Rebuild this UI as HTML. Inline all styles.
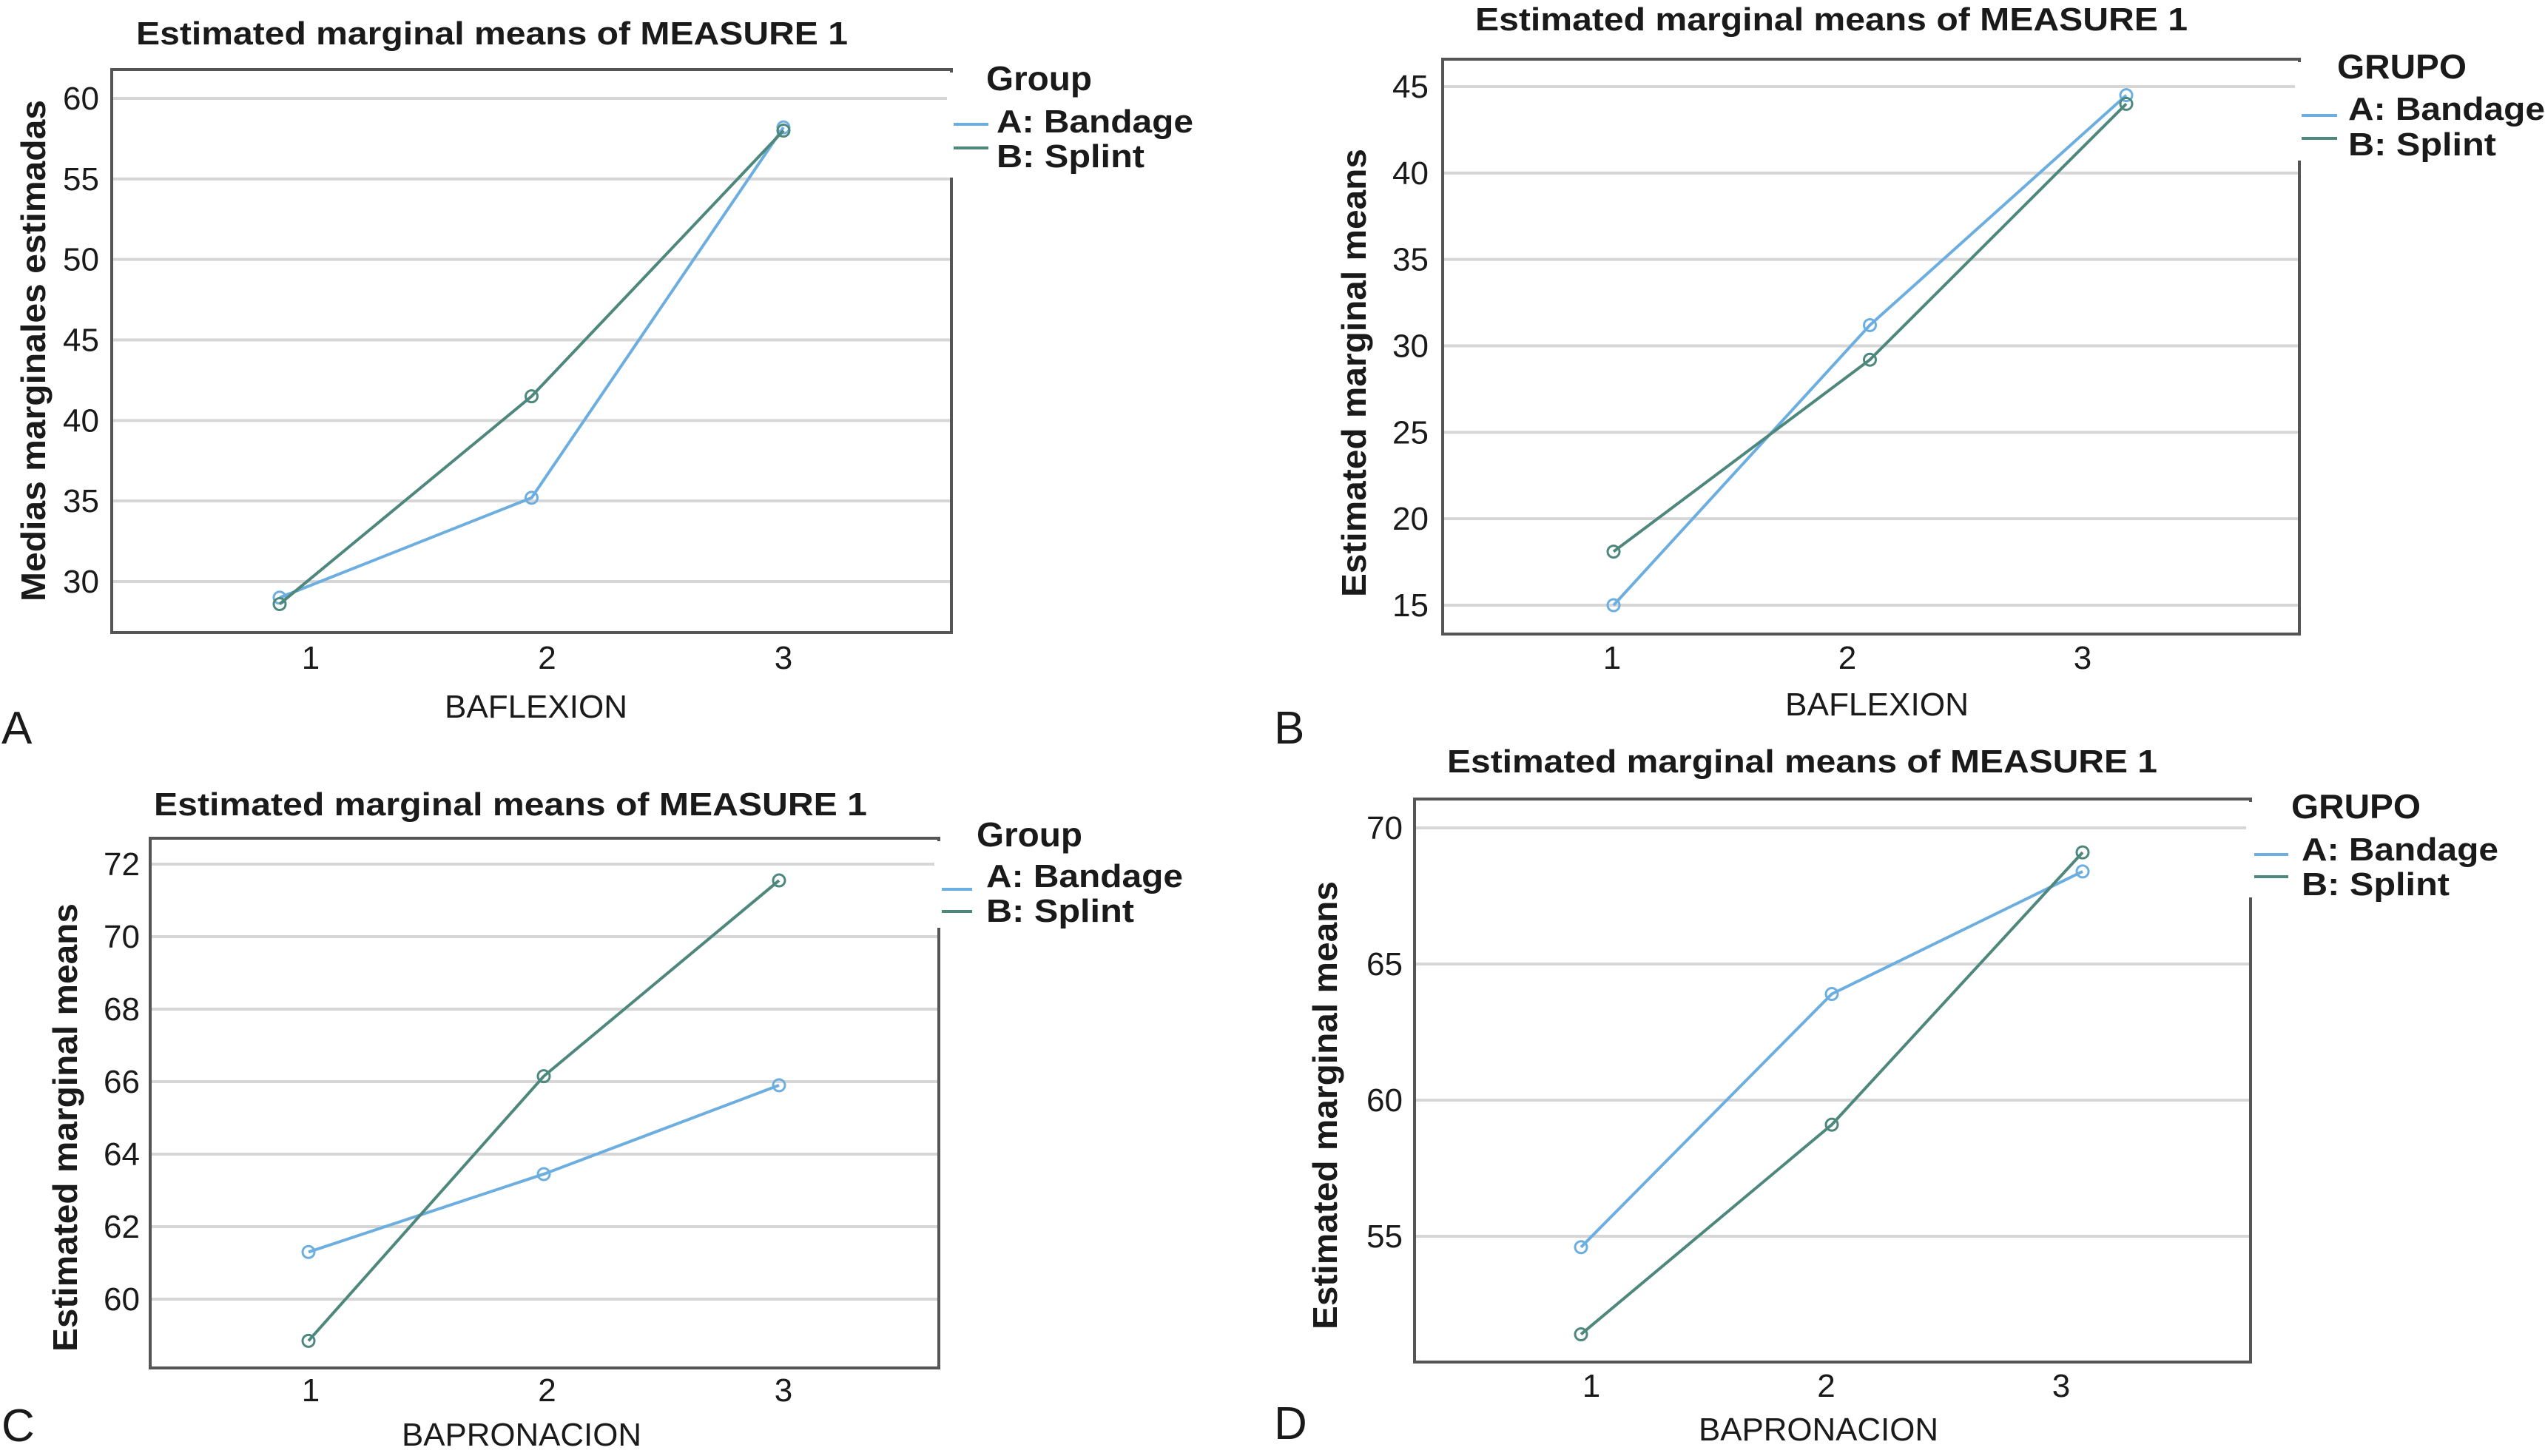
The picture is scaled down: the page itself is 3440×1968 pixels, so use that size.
<!DOCTYPE html>
<html><head><meta charset="utf-8"><style>
html,body{margin:0;padding:0;background:#fff;}
svg{display:block;}
text{font-family:"Liberation Sans",sans-serif;fill:#1a1a1a;}
</style></head><body>
<svg id="fig" width="3440" height="1968" viewBox="0 0 3440 1968" xmlns="http://www.w3.org/2000/svg"></svg>
<script>
// ---- data ----
const categories = ["1","2","3"];
const ticksA = [30,35,40,45,50,55,60];
const bandageA = [29.0, 35.2, 58.2];
const splintA = [28.6, 41.5, 58.0];
const ticksB = [15,20,25,30,35,40,45];
const bandageB = [15.0, 31.2, 44.5];
const splintB = [18.1, 29.2, 44.0];
const ticksC = [60,62,64,66,68,70,72];
const bandageC = [61.3, 63.45, 65.9];
const splintC = [58.85, 66.15, 71.55];
const ticksD = [55,60,65,70];
const bandageD = [54.6, 63.9, 68.4];
const splintD = [51.4, 59.1, 69.1];
const seriesNames = ["A: Bandage","B: Splint"];

// ---- layout (positions only) ----
const panels = [
 {id:"a", letter:"A", legendTitle:"Group", yTitle:"Medias marginales estimadas", xTitle:"BAFLEXION",
  ticks:ticksA, s1:bandageA, s2:splintA,
  box:[151,94,1286,855], y0px:786, y1px:133, px0:378, pdx:340.5, lx0:420, ldx:319.5, lBase:904,
  title:[184,60,962], tickR:134, yt:[45,135,813], xt:[601,970,247],
  leg:[1333,122,143,1347,179,226,1289,1336,168,200,240], let:[2,1005]},
 {id:"b", letter:"B", legendTitle:"GRUPO", yTitle:"Estimated marginal means", xTitle:"BAFLEXION",
  ticks:ticksB, s1:bandageB, s2:splintB,
  box:[1950,80,3108,857], y0px:818, y1px:117, px0:2181, pdx:346.5, lx0:2179, ldx:318, lBase:904,
  title:[1994,41,963], tickR:1931, yt:[1830,201,807], xt:[2413,967,248],
  leg:[3159,106,175,3174,162,210,3111,3159,156,187,217], let:[1722,1005]},
 {id:"c", letter:"C", legendTitle:"Group", yTitle:"Estimated marginal means", xTitle:"BAPRONACION",
  ticks:ticksC, s1:bandageC, s2:splintC,
  box:[203,1133,1269,1849], y0px:1756, y1px:1168, px0:417, pdx:318, lx0:420, ldx:319.5, lBase:1894,
  title:[208,1102,964], tickR:189, yt:[88,1221,1827], xt:[543,1954,324],
  leg:[1320,1144,143,1333,1199,1246,1273,1314,1202,1232,1254], let:[2,1948]},
 {id:"d", letter:"D", legendTitle:"GRUPO", yTitle:"Estimated marginal means", xTitle:"BAPRONACION",
  ticks:ticksD, s1:bandageD, s2:splintD,
  box:[1912,1080,3042,1841], y0px:1671, y1px:1119, px0:2137, pdx:339, lx0:2151, ldx:317.5, lBase:1888,
  title:[1956,1044,960], tickR:1896, yt:[1791,1191,1797], xt:[2296,1947,324],
  leg:[3097,1106,175,3111,1163,1210,3047,3093,1155,1185,1213], let:[1722,1945]}
];
const colors = ["#6caee0","#4e877c"];
const NS = "http://www.w3.org/2000/svg";
const svg = document.getElementById("fig");
function mk(tag, attrs, parent, txt){
  const e = document.createElementNS(NS, tag);
  for (const k in attrs) e.setAttribute(k, attrs[k]);
  if (txt !== undefined) e.textContent = txt;
  parent.appendChild(e);
  return e;
}
panels.forEach(p => {
  const g = mk("g", {}, svg);
  
  
  const t0 = p.ticks[0], t1 = p.ticks[p.ticks.length-1];
  const y = v => p.y0px + (v - t0) * (p.y1px - p.y0px) / (t1 - t0);
  const x = i => p.px0 + i * p.pdx;
  const lx = i => p.lx0 + i * p.ldx;
  const [bx0,by0,bx1,by1] = p.box;
  p.ticks.forEach(t => {
    const gl = mk("line", {x1:bx0, x2:bx1, y1:y(t), y2:y(t), stroke:"#d6d6d6", "stroke-width":4}, g);
    
    
    const tl = mk("text", {x:p.tickR, y:y(t)+15, "font-size":44, "text-anchor":"end"}, g, String(t));
    
    
  });
  const bx = mk("rect", {x:bx0, y:by0, width:bx1-bx0, height:by1-by0, fill:"none", stroke:"#555", "stroke-width":4}, g);
  
  
  categories.forEach((c,i) => {
    const xl = mk("text", {x:lx(i), y:p.lBase, "font-size":44, "text-anchor":"middle"}, g, c);
    
    
  });
  [p.s1, p.s2].forEach((s, si) => {
    const pts = s.map((v,i) => x(i) + "," + y(v)).join(" ");
    const pl = mk("polyline", {points:pts, fill:"none", stroke:colors[si], "stroke-width":4}, g);
    
    
    s.forEach((v,i) => {
      const c = mk("circle", {cx:x(i), cy:y(v), r:8, fill:"none", stroke:colors[si], "stroke-width":3}, g);
      
      
    });
  });
  const L = p.leg;
  const wr = mk("rect", {x:bx1-6, y:by0+4, width:460, height:L[10]-by0-4, fill:"#fff"}, g);
  
  
  const lt = mk("text", {x:L[0], y:L[1], "font-size":46, "font-weight":"bold", textLength:L[2], lengthAdjust:"spacingAndGlyphs"}, g, p.legendTitle);
  
  
  seriesNames.forEach((n, si) => {
    const ly = si ? L[9] : L[8];
    const sw = mk("line", {x1:L[6], x2:L[7], y1:ly, y2:ly, stroke:colors[si], "stroke-width":4}, g);
    
    
    const le = mk("text", {x:L[3], y:si ? L[5] : L[4], "font-size":44, "font-weight":"bold", textLength:si ? 200 : 266, lengthAdjust:"spacingAndGlyphs"}, g, n);
    
    
  });
  const ti = mk("text", {x:p.title[0], y:p.title[1], "font-size":44, "font-weight":"bold", textLength:p.title[2], lengthAdjust:"spacingAndGlyphs"}, g, "Estimated marginal means of MEASURE 1");
  
  
  const [ytx, yta, ytb] = p.yt;
  const yti = mk("text", {x:0, y:0, "font-size":46, "font-weight":"bold", textLength:ytb-yta, lengthAdjust:"spacingAndGlyphs",
    transform:"translate(" + (ytx+16) + "," + ytb + ") rotate(-90)"}, g, p.yTitle);
  
  
  const xti = mk("text", {x:p.xt[0], y:p.xt[1], "font-size":44, textLength:p.xt[2], lengthAdjust:"spacingAndGlyphs"}, g, p.xTitle);
  
  
  const le = mk("text", {x:p.let[0], y:p.let[1], "font-size":62}, g, p.letter);
  
  
});
</script>
</body></html>
